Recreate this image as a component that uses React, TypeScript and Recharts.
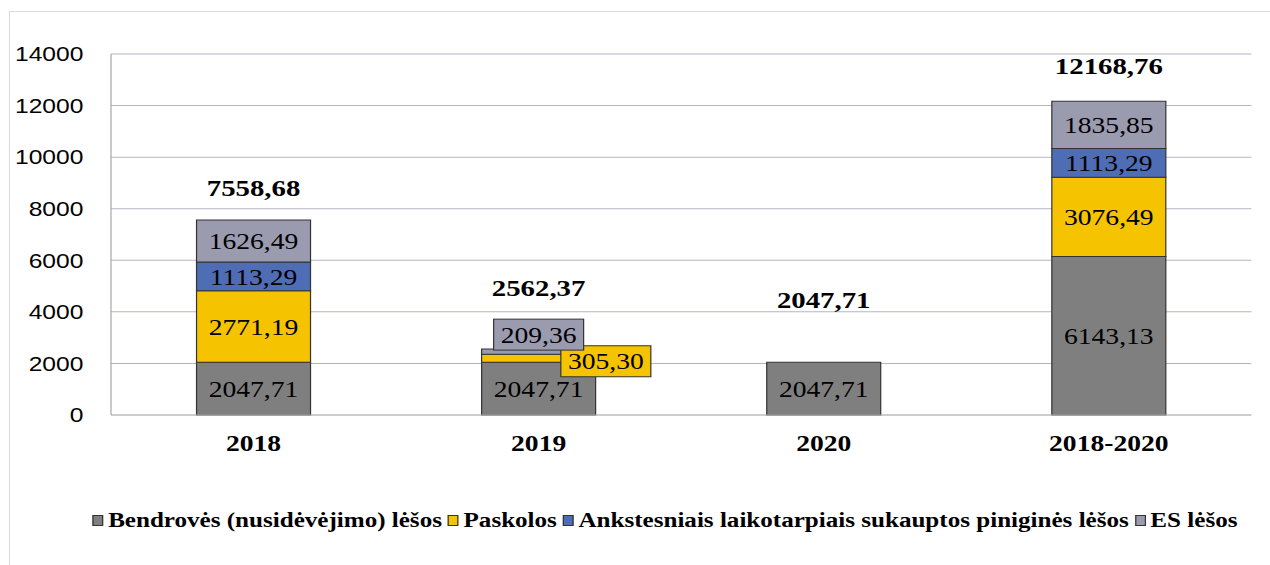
import React from 'react';
import { BarChart, Bar, XAxis, YAxis, CartesianGrid, Legend, LabelList } from 'recharts';

const categories = ['2018', '2019', '2020', '2018-2020'];
const bendroves = [2047.71, 2047.71, 2047.71, 6143.13];
const paskolos = [2771.19, 305.3, 0, 3076.49];
const ankstesniu = [1113.29, 0, 0, 1113.29];
const esLesos = [1626.49, 209.36, 0, 1835.85];
const totals = [7558.68, 2562.37, 2047.71, 12168.76];
const yTicks = [0, 2000, 4000, 6000, 8000, 10000, 12000, 14000];

const series = [
  { key: 'bendroves', name: 'Bendrovės (nusidėvėjimo) lėšos', color: '#7f7f7f' },
  { key: 'paskolos', name: 'Paskolos', color: '#f5c300' },
  { key: 'ankstesniu', name: 'Ankstesniais laikotarpiais sukauptos piniginės lėšos', color: '#4f6db4' },
  { key: 'es', name: 'ES lėšos', color: '#9b9bb0' },
];

const data = categories.map((name, i) => ({
  name,
  bendroves: bendroves[i],
  paskolos: paskolos[i],
  ankstesniu: ankstesniu[i],
  es: esLesos[i],
  total: totals[i],
}));

// the original picture is stretched sideways, so draw narrow and scale X
const STRETCH = 1.2;
const W = 1270 / STRETCH;
const H = 565;
const serif = '"Liberation Serif", "Times New Roman", serif';
const sans = '"Liberation Sans", Arial, sans-serif';

// tiny segments got their label moved into a box next to the bar
const boxShift: Record<string, { dx: number; dy: number }> = {
  paskolos: { dx: 56, dy: 3 },
  es: { dx: 0, dy: -17 },
};
const totalLift = [24, 53, 54, 27];

const fmt = (v: number) => v.toFixed(2).replace('.', ',');

const segmentLabel = (key: string, color: string) => (props: any) => {
  const vb = props.viewBox ?? props;
  const { x, y, width, height } = vb;
  const v = Number(props.value);
  if (!v) return null;
  const cx = x + width / 2;
  const cy = y + height / 2;
  if (Math.abs(height) < 20 && boxShift[key]) {
    const { dx, dy } = boxShift[key];
    const bw = 75;
    const bh = 31;
    return (
      <g>
        <rect x={cx + dx - bw / 2} y={cy + dy - bh / 2} width={bw} height={bh} fill={color} stroke="#333" strokeWidth={1} />
        <text x={cx + dx} y={cy + dy} textAnchor="middle" dominantBaseline="central" fontFamily={serif} fontSize={23} fill="#000">
          {fmt(v)}
        </text>
      </g>
    );
  }
  return (
    <text x={cx} y={cy} textAnchor="middle" dominantBaseline="central" fontFamily={serif} fontSize={23} fill="#000">
      {fmt(v)}
    </text>
  );
};

// hung on the bottom segment (never empty); the stack top comes from its px-per-unit
const totalLabel = (props: any) => {
  const vb = props.viewBox ?? props;
  const idx = props.index ?? props.indexInList ?? 0;
  const bottom = vb.y + vb.height;
  const perUnit = vb.height / bendroves[idx];
  const top = bottom - totals[idx] * perUnit;
  return (
    <text
      x={vb.x + vb.width / 2}
      y={top - totalLift[idx]}
      textAnchor="middle"
      fontFamily={serif}
      fontWeight="bold"
      fontSize={24}
      fill="#000"
    >
      {fmt(Number(props.value))}
    </text>
  );
};

const renderLegend = () => (
  <div
    style={{
      display: 'flex',
      justifyContent: 'center',
      alignItems: 'center',
      paddingLeft: 55,
      height: 30,
      fontFamily: serif,
      fontWeight: 'bold',
      fontSize: 20.9,
      color: '#000',
      whiteSpace: 'nowrap',
    }}
  >
    {series.map((s) => (
      <span key={s.key} style={{ display: 'inline-flex', alignItems: 'center', marginRight: 5 }}>
        <span
          style={{
            display: 'inline-block',
            width: 7,
            height: 9,
            background: s.color,
            border: '1px solid #333',
            marginRight: 4,
          }}
        />
        {s.name}
      </span>
    ))}
  </div>
);

export default function App() {
  return (
    <div style={{ position: 'absolute', left: 0, top: 0, width: 1270, height: H, overflow: 'hidden', background: '#fff' }}>
      <div
        style={{
          position: 'absolute',
          left: 9,
          top: 11,
          width: 1261,
          height: 554,
          borderLeft: '1px solid #d9d9d9',
          borderTop: '1px solid #d9d9d9',
          boxSizing: 'border-box',
        }}
      />
      <div
        style={{
          position: 'absolute',
          left: 0,
          top: 0,
          width: W,
          height: H,
          transform: `scaleX(${STRETCH})`,
          transformOrigin: '0 0',
        }}
      >
        <BarChart width={W} height={H} data={data} margin={{ top: 54, right: 15.5, left: 0, bottom: 90 }} barCategoryGap="30%">
          <CartesianGrid vertical={false} stroke="#b4b4c8" />
          <XAxis
            dataKey="name"
            height={30}
            tickSize={0}
            tickMargin={20}
            axisLine={{ stroke: '#bfbfbf' }}
            tickLine={false}
            tick={{ fontFamily: serif, fontWeight: 'bold', fontSize: 23, fill: '#000' }}
          />
          <YAxis
            width={92.5}
            domain={[0, 14000]}
            ticks={yTicks}
            tickSize={0}
            tickMargin={23}
            tickLine={false}
            axisLine={{ stroke: '#a6a6a6' }}
            tick={{ fontFamily: sans, fontSize: 20.5, fill: '#000' }}
          />
          <YAxis yAxisId="r" orientation="right" width={0} domain={[0, 14000]} tick={false} tickLine={false} axisLine={{ stroke: '#a6a6a6' }} />
          {series.map((s) => (
            <Bar key={s.key} dataKey={s.key} name={s.name} stackId="a" fill={s.color} stroke="#333" strokeWidth={1} isAnimationActive={false}>
              <LabelList dataKey={s.key} content={segmentLabel(s.key, s.color)} />
              {s.key === 'bendroves' && <LabelList dataKey="total" content={totalLabel} />}
            </Bar>
          ))}
          <Legend content={renderLegend} verticalAlign="bottom" wrapperStyle={{ left: 0, width: W, top: 505, bottom: 'auto' }} />
        </BarChart>
      </div>
    </div>
  );
}
